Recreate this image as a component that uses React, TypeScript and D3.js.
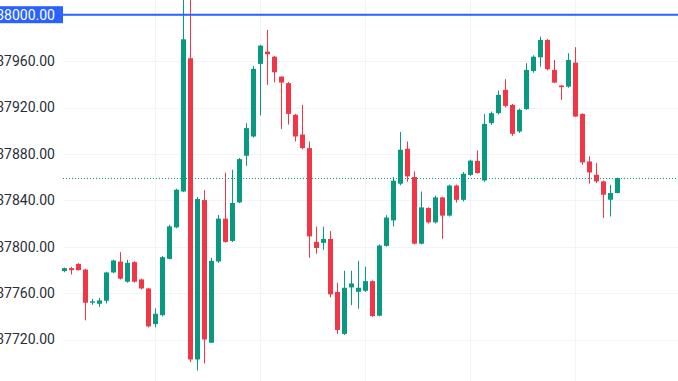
import React from "react";
import * as d3 from "d3";

const opens = [37779,37781.5,37785.2,37780.3,37751.7,37750.8,37753.4,37777.8,37787.2,37769.8,37786.7,37771.8,37764,37733.3,37741,37789.5,37816.7,37847.6,37962.5,37702.8,37840.2,37717.2,37787.3,37824.2,37805,37838.2,37878.4,37895,37957.6,37968.2,37963.8,37946.6,37941,37913.7,37896.7,37885,37804.2,37803.3,37806.7,37760.9,37724.8,37764.9,37761.1,37762,37770.3,37740.5,37800.7,37822.7,37854.3,37884.4,37860,37802.6,37833.3,37821,37842.5,37826.8,37852.7,37840.4,37861.9,37874,37857.1,37906.5,37915.1,37935.2,37922.3,37899.3,37918.6,37951.5,37963.3,37978.2,37952.4,37938.9,37938,37958.7,37914.5,37873.5,37862,37856.3,37840.5,37846.3];
const highs = [37782,37782.6,37785.8,37781,37755.1,37755.8,37778.5,37788.8,37795.3,37788.7,37787.5,37772.5,37764.5,37746.8,37792,37819,37850,38015,38015,37842.8,37848.8,37790.4,37827.3,37863.8,37866.3,37876.5,37906.5,37955.8,37974,37986.8,37964.5,37947,37942,37914.5,37922.3,37890.7,37817.2,37817.2,37813.4,37768.9,37779.2,37779.2,37787.8,37782.6,37771,37802,37827.1,37860,37898.8,37890.7,37864.9,37847.6,37834,37844,37843,37853.5,37853.5,37864.4,37875,37883,37914.3,37916.5,37934.6,37944.4,37923,37919,37958.2,37965,37981,37979,37961,37939.5,37966.8,37972,37915,37877.8,37872.1,37857,37853.4,37859.5];
const lows = [37778,37776,37779.5,37736.5,37749.9,37748,37751.1,37777,37771.7,37769,37769,37763,37730.5,37730.5,37740,37789,37816,37847,37700.5,37693.3,37699.4,37717,37786,37803.5,37804,37837.5,37869.7,37894,37913.1,37939.5,37941.8,37901.4,37905.3,37890.7,37884,37790.3,37793.9,37797.3,37756.3,37724.8,37724,37749.6,37746.5,37761,37739.5,37740,37800,37817.5,37853,37856,37802,37802,37820,37820,37806.9,37826,37838,37839,37861,37863,37856,37905,37914,37920,37895.6,37898,37918,37950,37955.2,37952,37941,37926.6,37937,37912,37870.6,37854.3,37854.9,37824.8,37826,37846];
const closes = [37781.5,37779.8,37779.8,37751.7,37752.9,37753.7,37777.8,37788.1,37772.4,37786.1,37769.8,37764,37731.3,37742.2,37791,37817.5,37849.1,37978.8,37702.8,37841.1,37720,37787.8,37824.2,37804.1,37837.7,37875.5,37902.2,37953.3,37973.3,37965.9,37950.4,37941.5,37914.5,37895,37885,37808.9,37798.9,37806.7,37758.9,37728.2,37764.6,37768.3,37764.6,37770.3,37740.2,37801,37825.1,37856.9,37883.6,37860.6,37802.6,37833.9,37821,37842.5,37826.8,37852.7,37840.4,37862.9,37874.2,37863.5,37905.9,37915.1,37930.9,37921.4,37897.3,37918,37952.4,37963.8,37978.2,37953,37941.5,37937.5,37961,37912.2,37872.6,37864,37856.3,37844.8,37846.3,37859.2];
const priceTicks = [38000, 37960, 37920, 37880, 37840, 37800, 37760, 37720];
const timeGridIdx = [13, 28, 43, 58, 73];
const markedPrice = 38000;

const W = 678, H = 381;
const UP = "#089981", DOWN = "#f23645";

export default function App() {
  const n = closes.length;
  const x = d3.scaleLinear().domain([0, n - 1]).range([63.6, 616.6]);
  const y = d3.scaleLinear().domain([37720, 38000]).range([339.5, 14.7]);
  const plotLeft = 63;
  const lastClose = closes[n - 1];
  const fmt = d3.format(".2f");
  const font = "Roboto, 'Noto Sans', sans-serif";

  return (
    <svg width={W} height={H} style={{ position: "absolute", left: 0, top: 0, background: "#fff" }}>
      {priceTicks.map((t) => (
        <line key={"h" + t} x1={plotLeft} x2={W} y1={Math.round(y(t)) + 0.5} y2={Math.round(y(t)) + 0.5} stroke="#f0f3fa" strokeWidth={1} />
      ))}
      {timeGridIdx.map((i) => (
        <line key={"v" + i} x1={Math.round(x(i)) + 0.5} x2={Math.round(x(i)) + 0.5} y1={0} y2={H} stroke="#f0f3fa" strokeWidth={1} />
      ))}
      {closes.map((c, i) => {
        const o = opens[i];
        const up = c >= o;
        const col = up ? UP : DOWN;
        const cx = Math.round(x(i));
        const top = y(Math.max(o, c));
        const bot = y(Math.min(o, c));
        const bh = Math.max(1, bot - top);
        return (
          <g key={i}>
            <line x1={cx + 0.5} x2={cx + 0.5} y1={y(highs[i])} y2={y(lows[i])} stroke={col} strokeWidth={1} />
            <rect x={cx - 2} y={top} width={5} height={bh} fill={col} />
          </g>
        );
      })}
      <line x1={plotLeft} x2={W} y1={Math.round(y(lastClose)) + 0.5} y2={Math.round(y(lastClose)) + 0.5} stroke={UP} strokeWidth={1} strokeDasharray="1,2" />
      <line x1={plotLeft} x2={W} y1={y(markedPrice)} y2={y(markedPrice)} stroke="#2962ff" strokeWidth={2} />
      {priceTicks.filter((t) => t !== markedPrice).map((t) => (
        <text key={"t" + t} x={55} y={y(t)} dy="0.35em" textAnchor="end" fontFamily={font} fontSize={14} fill="#2a2e39">
          {fmt(t)}
        </text>
      ))}
      <rect x={0} y={y(markedPrice) - 8.5} width={63} height={17} fill="#2962ff" />
      <text x={55} y={y(markedPrice)} dy="0.35em" textAnchor="end" fontFamily={font} fontSize={14} fill="#ffffff">
        {fmt(markedPrice)}
      </text>
    </svg>
  );
}
